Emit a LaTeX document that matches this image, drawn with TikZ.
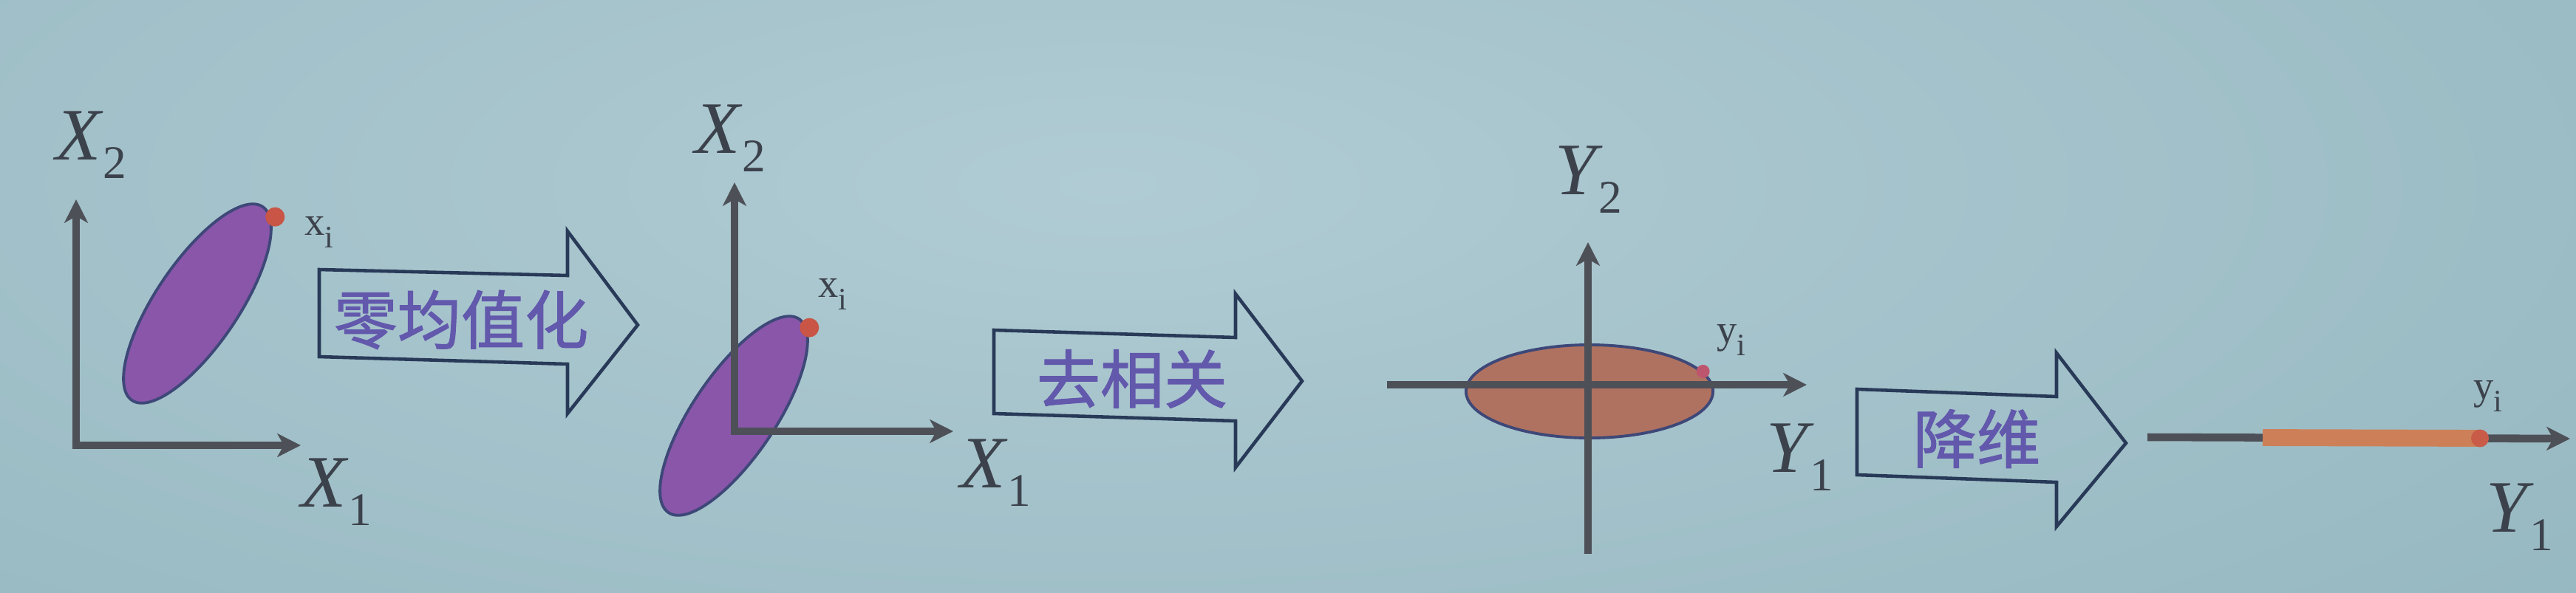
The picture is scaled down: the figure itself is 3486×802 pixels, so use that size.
\documentclass[tikz,border=0pt]{standalone}
\usepackage{fontspec}
\setmainfont{Liberation Serif}
\newfontfamily\cjk[FakeBold=1.3]{Noto Sans CJK SC}
\usetikzlibrary{arrows.meta,shapes.geometric,calc}
\definecolor{bg}{RGB}{150,184,193}
\definecolor{bglight}{RGB}{176,203,211}
\definecolor{axc}{RGB}{78,80,88}
\definecolor{labc}{RGB}{60,66,76}
\definecolor{purp}{RGB}{137,86,170}
\definecolor{ellout}{RGB}{62,72,120}
\definecolor{reddot}{RGB}{200,85,70}
\definecolor{pinkd}{RGB}{190,85,110}
\definecolor{brownf}{RGB}{176,114,96}
\definecolor{orng}{RGB}{205,128,88}
\definecolor{arrc}{RGB}{40,58,88}
\definecolor{cjkc}{RGB}{98,88,172}
\newcommand\axl[2]{{\fontsize{28.5pt}{30pt}\selectfont\itshape #1}\kern0.03cm\raisebox{-0.25cm}{\fontsize{18pt}{20pt}\selectfont #2}}
\newcommand\ptl[2]{{\fontsize{15.5pt}{17pt}\selectfont #1}\raisebox{-0.17cm}{\fontsize{12pt}{14pt}\selectfont #2}}
\begin{document}
\begin{tikzpicture}[x=0.01cm,y=-0.01cm,
  axis/.style={draw=axc,line width=2.7pt,line join=miter},
  st/.tip={Stealth[length=9pt,width=9pt,inset=2.5pt]},
  ell/.style={ellipse,draw=ellout,line width=1.1pt,inner sep=0pt},
  dotn/.style={circle,fill=reddot,inner sep=0pt,minimum size=0.26cm},
  lab/.style={text=labc,inner sep=0pt},
  blk/.style={draw=arrc,line width=1.3pt,line join=miter},
  cjkt/.style={text=cjkc,inner sep=0pt,font=\cjk\fontsize{24.5pt}{26pt}\selectfont}]
\useasboundingbox (0,0) rectangle (3486,802);
\fill[bg] (0,0) rectangle (3486,802);
\begin{scope}
\clip (0,0) rectangle (3486,802);
\shade[inner color=bglight,outer color=bg] (1500,250) ellipse [x radius=2600, y radius=900];
\end{scope}

% ---------- panel 1 ----------
\node[ell,fill=purp,minimum width=3.16cm,minimum height=1.12cm,rotate=56] (e1) at (267,411) {};
\node[dotn] (d1) at ([xshift=0.07cm,yshift=-0.04cm]e1.-5) {};
\coordinate (t1) at (103,270);
\coordinate (o1) at (103,603);
\coordinate (r1) at (407,603);
\draw[axis,st-st] (t1) -- (o1) -- (r1);
\node[lab] (X2a) at (123,196) {\axl{X}{2}};
\node[lab] (X1a) at (455,666) {\axl{X}{1}};
\node[lab] (xia) at (432,314) {\ptl{x}{i}};

% ---------- arrow 1 ----------
\draw[blk] (432,365) -- (768,373) -- (768,313) -- (863,440) -- (768,560) -- (768,493) -- (432,483) -- cycle;
\node[cjkt] (a1) at (624,433) {零均值化};

% ---------- panel 2 ----------
\node[ell,fill=purp,minimum width=3.16cm,minimum height=1.12cm,rotate=56] (e2) at (993,563) {};
\node[dotn] (d2) at ([xshift=0.04cm,yshift=-0.02cm]e2.-5) {};
\coordinate (t2) at (994,247);
\coordinate (o2) at (994,584);
\coordinate (r2) at (1290,584);
\draw[axis,st-st] (t2) -- (o2) -- (r2);
\node[lab] (X2b) at (988,187) {\axl{X}{2}};
\node[lab] (X1b) at (1347,640) {\axl{X}{1}};
\node[lab] (xib) at (1127,398) {\ptl{x}{i}};

% ---------- arrow 2 ----------
\draw[blk] (1345,447) -- (1672,457) -- (1672,398) -- (1762,516) -- (1672,633) -- (1672,570) -- (1345,560) -- cycle;
\node[cjkt] (a2) at (1532,513) {去相关};

% ---------- panel 3 ----------
\node[ell,fill=brownf,minimum width=3.34cm,minimum height=1.26cm] (e3) at (2151,530) {};
\node[circle,fill=pinkd,inner sep=0pt,minimum size=0.18cm] (d3) at (e3.10) {};
\coordinate (l3) at (1877,521);
\coordinate (r3) at (2445,521);
\coordinate (b3) at (2149,750);
\coordinate (t3) at (2149,328);
\draw[axis,-st] (l3) -- (r3);
\draw[axis,-st] (b3) -- (t3);
\node[lab] (Y2c) at (2150,243) {\axl{Y}{2}};
\node[lab] (Y1c) at (2436,619) {\axl{Y}{1}};
\node[lab] (yic) at (2343,460) {\ptl{y}{i}};

% ---------- arrow 3 ----------
\draw[blk] (2513,527) -- (2783,537) -- (2783,478) -- (2877,600) -- (2783,713) -- (2783,653) -- (2513,643) -- cycle;
\node[cjkt] (a3) at (2675,594) {降维};

% ---------- panel 4 ----------
\coordinate (l4) at (2906,592);
\coordinate (r4) at (3478,594);
\draw[axis,line width=3pt,-st] (l4) -- (r4);
\coordinate (oa) at (3062,592.5);
\coordinate (ob) at (3356,593.5);
\draw[orng,line width=6.5pt] (oa) -- (ob);
\node[dotn,fill=reddot!85!orng,minimum size=0.24cm] (d4) at (ob) {};
\node[lab] (yid) at (3367,536) {\ptl{y}{i}};
\node[lab] (Y1d) at (3410,700) {\axl{Y}{1}};
\end{tikzpicture}
\end{document}
